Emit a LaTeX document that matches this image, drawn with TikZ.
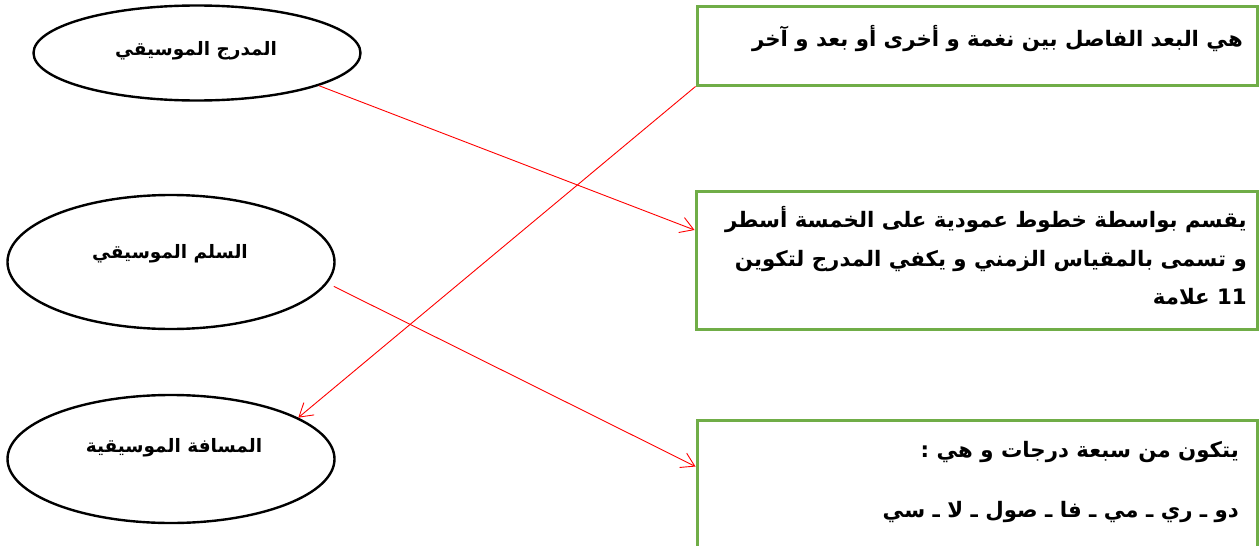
\documentclass[tikz,border=0pt]{standalone}
\usepackage{fontspec}
\usetikzlibrary{shapes.geometric,arrows.meta}
\newfontfamily\arabicfont[Script=Arabic]{DejaVu Sans}
\TeXXeTstate=1
\definecolor{boxgreen}{HTML}{70AD47}
\begin{document}
\begin{tikzpicture}[x=1pt,y=-1pt,
  oval/.style={draw=black,line width=2.4pt,ellipse,inner sep=0pt},
  box/.style={draw=boxgreen,line width=3pt,rectangle,inner sep=0pt},
  lbl/.style={font=\arabicfont\bfseries\fontsize{18.5}{22}\selectfont,inner sep=0pt},
  txt/.style={font=\arabicfont\bfseries\fontsize{21.3}{25}\selectfont,inner sep=0pt},
  para/.style={inner sep=0pt,align=right},
  link/.style={draw=red,line width=0.9pt,-{Straight Barb[length=13pt,width=16pt]}}]
\useasboundingbox (0,0) rectangle (1259,546);
% ellipses
\node[oval,minimum width=327pt,minimum height=95pt] (e1) at (197,53) {};
\node[oval,minimum width=327pt,minimum height=134pt] (e2) at (171,262) {};
\node[oval,minimum width=327pt,minimum height=128pt] (e3) at (171,459) {};
\node[lbl] (l1) at (196,51) {\beginR المدرج الموسيقي\endR};
\node[lbl] (l2) at (170,254) {\beginR السلم الموسيقي\endR};
\node[lbl] (l3) at (174,448) {\beginR المسافة الموسيقية\endR};
% boxes
\node[box,minimum width=560pt,minimum height=79pt] (b1) at (977,45.5) {};
\node[box,minimum width=561pt,minimum height=138pt] (b2) at (976.5,260) {};
\node[box,minimum width=560pt,minimum height=150pt] (b3) at (977,495) {};
\node[txt,anchor=east] (t1) at (1243,39) {\beginR هي البعد الفاصل بين نغمة و أخرى أو بعد و آخر\endR};
\node[para,anchor=east,font=\arabicfont\bfseries\fontsize{21.3}{38.5}\selectfont] (t2) at (1247,256)
  {\beginR يقسم بواسطة خطوط عمودية على الخمسة أسطر\endR\\
   \beginR و تسمى بالمقياس الزمني و يكفي المدرج لتكوين\endR\\
   \beginR\beginL11\endL{} علامة\endR};
\node[para,anchor=east,font=\arabicfont\bfseries\fontsize{21.3}{60}\selectfont] (t3) at (1239,482)
  {\beginR يتكون من سبعة درجات و هي :\endR\\
   \beginR دو ـ ري ـ مي ـ فا ـ صول ـ لا ـ سي\endR};
% connectors
\draw[link] (e1.-15) -- ([yshift=30pt]b2.west);
\draw[link] (b1.south west) -- (e3.18);
\draw[link] ([xshift=9pt]e2.-9) -- ([yshift=-48pt]b3.north west);
\end{tikzpicture}
\end{document}
